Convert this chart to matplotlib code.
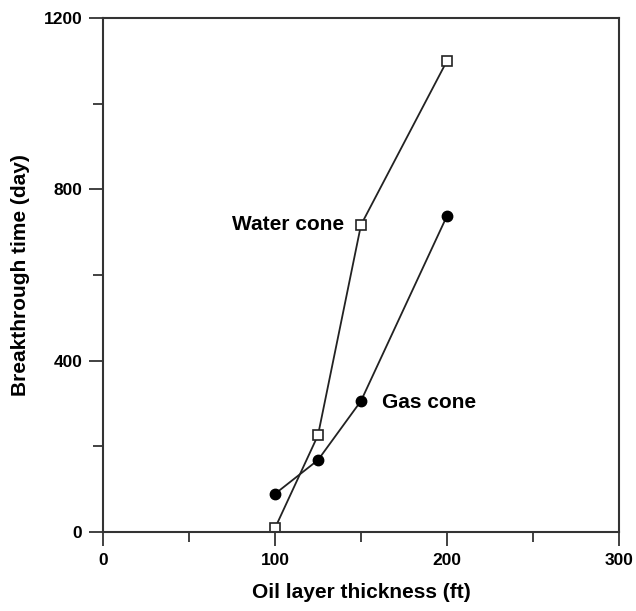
import numpy as np
import matplotlib.pyplot as plt
from matplotlib.ticker import MultipleLocator

plt.rcParams['font.family'] = ['Liberation Sans', 'DejaVu Sans']
plt.rcParams['font.weight'] = 'bold'

thickness = [100, 125, 150, 200]
water_cone = [9, 226, 717, 1100]
gas_cone = [89, 168, 306, 738]

fig = plt.figure(figsize=(6.36, 6.11), dpi=100)
ax = fig.add_axes([103 / 636, 1 - 532 / 611, 516 / 636, 514 / 611])

ax.plot(thickness, water_cone, color='#222222', lw=1.3, marker='s', ms=6.5,
        mfc='white', mec='#222222', mew=1.2)
ax.plot(thickness, gas_cone, color='#222222', lw=1.3, marker='o', ms=7.5,
        mfc='black', mec='black')

ax.text(140, 719, 'Water cone', ha='right', va='center', fontsize=15, fontweight='bold')
ax.text(162, 303, 'Gas cone', ha='left', va='center', fontsize=15, fontweight='bold')

ax.set_xlim(0, 300)
ax.set_ylim(0, 1200)
ax.xaxis.set_major_locator(MultipleLocator(100))
ax.xaxis.set_minor_locator(MultipleLocator(50))
ax.yaxis.set_major_locator(MultipleLocator(400))
ax.yaxis.set_minor_locator(MultipleLocator(200))
ax.tick_params(which='major', direction='out', length=10, width=1.3, color='#333333',
               labelsize=12.5, pad=5)
ax.tick_params(which='minor', direction='out', length=7, width=1.3, color='#333333')
for lab in ax.get_xticklabels() + ax.get_yticklabels():
    lab.set_fontweight('bold')
for s in ax.spines.values():
    s.set_linewidth(1.5)
    s.set_color('#333333')

ax.set_xlabel('Oil layer thickness (ft)', fontsize=15, fontweight='bold', labelpad=11)
ax.set_ylabel('Breakthrough time (day)', fontsize=15, fontweight='bold', labelpad=10)

fig.savefig('out.png', dpi=100)
